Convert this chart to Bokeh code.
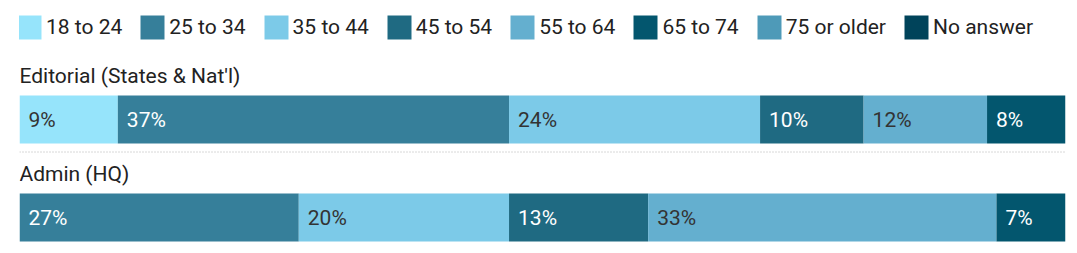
from bokeh.plotting import figure
from bokeh.models import Range1d, ColumnDataSource, Legend, LegendItem
from bokeh.core.properties import value
from bokeh.embed import file_html
from bokeh.resources import INLINE

# ---- data ----
groups = ["Editorial (States & Nat'l)", "Admin (HQ)"]
ages = ["18 to 24", "25 to 34", "35 to 44", "45 to 54", "55 to 64",
        "65 to 74", "75 or older", "No answer"]
editorial = [9.4, 37.4, 24.0, 9.9, 11.8, 7.5, 0, 0]
admin = [0, 26.7, 20.1, 13.3, 33.3, 6.6, 0, 0]
series = [editorial, admin]

# ---- style ----
colors = ["#96e4fb", "#367f9a", "#7ccae8", "#1f6a82", "#64afcf",
          "#03566e", "#4e9ab8", "#00435a"]
label_colors = ["#333333", "#ffffff", "#333333", "#ffffff", "#333333",
                "#ffffff", "#ffffff", "#ffffff"]
FONT = "Roboto"
FS = "21px"

W, H = 1077, 253
bar_top = [95, 193]
bar_h = 48
title_mid = [75, 173]
sep_y = 151.5

total = sum(editorial)
p = figure(width=W, height=H, output_backend="svg", toolbar_location=None,
           x_range=Range1d(0, total), y_range=Range1d(H, 0),
           x_axis_location=None, y_axis_location=None,
           min_border_left=19, min_border_right=12,
           min_border_top=0, min_border_bottom=0)
p.grid.visible = False
p.outline_line_color = None
p.background_fill_color = "white"
p.border_fill_color = "white"

# group titles
p.text(x=[0, 0], y=title_mid, text=groups, text_font=value(FONT),
       text_font_size=FS, text_color="#222222", text_align="left",
       text_baseline="middle")

# separator
p.segment(x0=[0], x1=[total], y0=[sep_y], y1=[sep_y], line_color="#b0b0b0",
          line_width=1, line_dash="1 2")

cum = [0.0 for _ in groups]
items = []
for i, age in enumerate(ages):
    ys, lefts, rights, labs, lx, ly = [], [], [], [], [], []
    for g in range(len(groups)):
        v = series[g][i]
        ys.append(bar_top[g] + bar_h / 2)
        lefts.append(cum[g])
        rights.append(cum[g] + v)
        if v > 0:
            labs.append(f"{v:.0f}%")
            lx.append(cum[g])
            ly.append(bar_top[g] + bar_h / 2)
        cum[g] += v
    src = ColumnDataSource(dict(y=ys, left=lefts, right=rights))
    r = p.hbar(y="y", left="left", right="right", height=bar_h, source=src,
               fill_color=colors[i], line_color=None)
    items.append(LegendItem(label=age, renderers=[r]))
    if labs:
        p.text(x=lx, y=ly, text=labs, x_offset=9, text_font=value(FONT),
               text_font_size=FS, text_color=label_colors[i],
               text_align="left", text_baseline="middle")

legend = Legend(items=items, orientation="horizontal", location=(-5, 211),
                glyph_width=30, glyph_height=30, label_standoff=2, spacing=15,
                padding=0, margin=0, border_line_color=None,
                background_fill_alpha=0, label_text_font=FONT,
                label_text_font_size=FS, label_text_color="#222222")
p.add_layout(legend)

open("out.html", "w").write(file_html(p, INLINE))
